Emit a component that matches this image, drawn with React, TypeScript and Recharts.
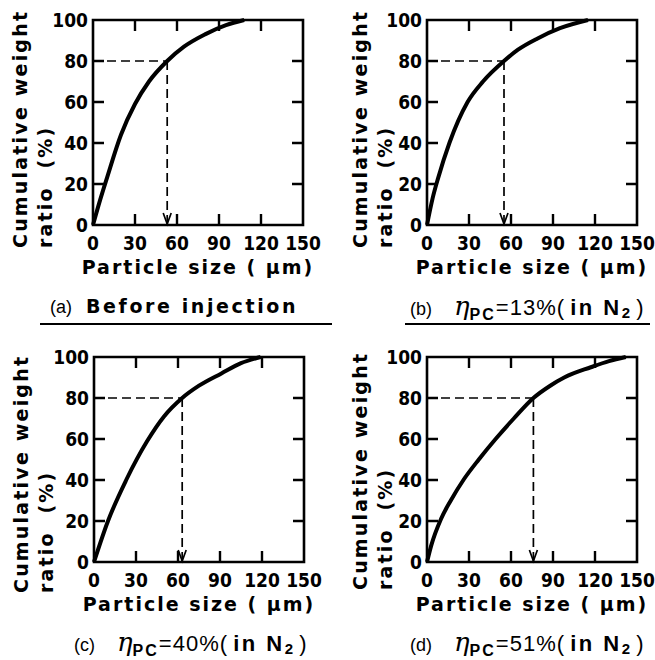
import React from "react";
import { LineChart, Line, XAxis, YAxis, ReferenceLine } from "recharts";

// particle size (um) vs cumulative weight ratio (%)
const sizeA = [0, 5, 10, 20, 30, 40, 53, 65, 80, 95, 108];
const cumA = [0, 12, 23, 44, 59, 70, 80, 87, 93, 97.5, 100];
const sizeB = [0, 4, 8, 16, 29, 40, 55, 65, 79, 95, 115];
const cumB = [0, 13, 23, 40, 60, 70, 80, 85.5, 91, 96, 100];
const sizeC = [0, 10, 23, 38, 50, 63, 75, 91, 105, 119];
const cumC = [0, 20, 40, 59, 71, 80, 86, 92, 97, 100];
const sizeD = [0, 3, 10, 17, 26, 37, 49, 62, 76, 88, 98, 117, 130, 142];
const cumD = [0, 8, 21, 30, 40, 50, 60, 70, 80, 86, 90, 95, 98, 100];

// size at 80 % (dashed guide)
const d80 = [53, 55, 63, 76];

const xTicks = [0, 30, 60, 90, 120, 150];
const yTicks = [0, 20, 40, 60, 80, 100];
const tags = ["(a)", "(b)", "(c)", "(d)"];
const etaPc = [null, 13, 40, 51];

const toRows = (xs: number[], ys: number[]) => xs.map((x, i) => ({ x, y: ys[i] }));
const series = [toRows(sizeA, cumA), toRows(sizeB, cumB), toRows(sizeC, cumC), toRows(sizeD, cumD)];

const X0 = xTicks[0];
const X1 = xTicks[xTicks.length - 1];
const Y0 = yTicks[0];
const Y1 = yTicks[yTicks.length - 1];

// layout of one chart
const CW = 321;
const CH = 280;
const M_TOP = 20;
const M_RIGHT = 18;
const Y_W = 93;
const X_H = 55;
const PLOT_W = CW - Y_W - M_RIGHT;
const PLOT_H = CH - M_TOP - X_H;
const X_MARGIN = 12;
const Y_MARGIN = 5;
const TICK = 11;
const FRAME = 2.6;

// chart placement on the page + y-title position inside each chart
const spots = [
  { left: 0, top: 0, lx: 0, ly: 248 },
  { left: 334, top: 0, lx: 6, ly: 248 },
  { left: 1, top: 337, lx: 0, ly: 256 },
  { left: 334, top: 337, lx: 6, ly: 253 },
];

const tickFont = "'Liberation Sans Narrow','DejaVu Sans Condensed','Liberation Sans',Arial,sans-serif";
const labelFont = "'DejaVu Sans',Verdana,sans-serif";
const tickText = { fill: "#000", fontSize: 19, fontWeight: 700, fontFamily: tickFont };

const arrowShape = (p: any) => {
  const { x1, y1, x2, y2 } = p;
  return (
    <g>
      <line x1={x1} y1={y1} x2={x2} y2={y2} stroke="#000" strokeWidth={1.7} strokeDasharray="9 5" />
      <path d={`M${x2 - 4},${y2 - 12} L${x2},${y2 - 1} L${x2 + 4},${y2 - 12}`} fill="none" stroke="#000" strokeWidth={1.7} />
    </g>
  );
};

const dashShape = (p: any) => (
  <line x1={p.x1} y1={p.y1} x2={p.x2} y2={p.y2} stroke="#000" strokeWidth={1.7} strokeDasharray="9 5" />
);

// x tick: label + inward marks on the bottom and top edges
const renderXTick = (p: any) => {
  const { x, y, payload } = p;
  const v = payload.value;
  const base = y - X_MARGIN;
  const top = base - PLOT_H;
  const inner = v !== X0 && v !== X1;
  return (
    <g>
      {inner && (
        <path
          d={`M${x},${base} L${x},${base - TICK} M${x},${top} L${x},${top + TICK}`}
          fill="none"
          stroke="#000"
          strokeWidth={2.4}
        />
      )}
      <text x={x} y={y} dy="0.71em" textAnchor="middle" {...tickText}>
        {v}
      </text>
    </g>
  );
};

// y tick: label + inward marks on the left and right edges; the frame is drawn from the top tick
const renderYTick = (p: any) => {
  const { x, y, payload } = p;
  const v = payload.value;
  const base = x + Y_MARGIN;
  const right = base + PLOT_W;
  const inner = v !== Y0 && v !== Y1;
  return (
    <g>
      {inner && (
        <path
          d={`M${base},${y} L${base + TICK},${y} M${right},${y} L${right - TICK},${y}`}
          fill="none"
          stroke="#000"
          strokeWidth={2.4}
        />
      )}
      {v === Y1 && (
        <path
          d={`M${base},${y} L${right},${y} L${right},${y + PLOT_H} L${base},${y + PLOT_H} Z`}
          fill="none"
          stroke="#000"
          strokeWidth={FRAME}
          strokeLinejoin="miter"
        />
      )}
      <text x={x} y={y} dy="0.355em" textAnchor="end" {...tickText}>
        {v}
      </text>
    </g>
  );
};

const makeYLabel = (lx: number, ly: number) => () => {
  const a = 20 + lx;
  const b = 45 + lx;
  return (
    <g fontFamily={labelFont} fontWeight={700} fontSize={19} fill="#000">
      <text x={a} y={ly} transform={`rotate(-90 ${a} ${ly})`} dominantBaseline="central" letterSpacing={2.2}>
        Cumulative weight
      </text>
      <text x={b} y={ly} transform={`rotate(-90 ${b} ${ly})`} dominantBaseline="central" letterSpacing={2.2}>
        {"ratio\u00a0\u00a0(%)"}
      </text>
    </g>
  );
};

function Panel({ idx }: { idx: number }) {
  const s = spots[idx];
  return (
    <div style={{ position: "absolute", left: s.left, top: s.top }}>
      <LineChart width={CW} height={CH} data={series[idx]} margin={{ top: M_TOP, right: M_RIGHT, bottom: 0, left: 0 }}>
        <XAxis
          dataKey="x"
          type="number"
          domain={[X0, X1]}
          ticks={xTicks}
          height={X_H}
          axisLine={false}
          tickLine={false}
          tickSize={0}
          tickMargin={X_MARGIN}
          tick={renderXTick}
          interval={0}
          label={{
            value: "Particle size\u00a0(\u00a0μm)",
            position: "insideBottom",
            offset: 6,
            style: { fontFamily: labelFont, fontWeight: 700, fontSize: 19, fill: "#000", letterSpacing: 2 },
          }}
        />
        <YAxis
          type="number"
          domain={[Y0, Y1]}
          ticks={yTicks}
          width={Y_W}
          axisLine={false}
          tickLine={false}
          tickSize={0}
          tickMargin={Y_MARGIN}
          tick={renderYTick}
          interval={0}
          label={makeYLabel(s.lx, s.ly)}
        />
        <ReferenceLine ifOverflow="visible" segment={[{ x: 0, y: 80 }, { x: d80[idx], y: 80 }]} shape={dashShape} />
        <ReferenceLine ifOverflow="visible" segment={[{ x: d80[idx], y: 80 }, { x: d80[idx], y: 0 }]} shape={arrowShape} />
        <Line dataKey="y" type="monotone" stroke="#000" strokeWidth={4} dot={false} isAnimationActive={false} />
      </LineChart>
    </div>
  );
}

function Caption({ idx, left, top }: { idx: number; left: number; top: number }) {
  const eta = etaPc[idx];
  return (
    <div
      style={{
        position: "absolute",
        left,
        top,
        whiteSpace: "nowrap",
        color: "#000",
        fontFamily: "'Liberation Sans',Arial,sans-serif",
        fontSize: 22,
        lineHeight: "26px",
      }}
    >
      <span style={{ fontSize: 18, marginRight: eta === null ? 14 : 22 }}>{tags[idx]}</span>
      {eta === null ? (
        <span style={{ fontFamily: labelFont, fontWeight: 700, fontSize: 19, letterSpacing: 2.6 }}>
          Before injection
        </span>
      ) : (
        <span>
          <span style={{ fontFamily: "'DejaVu Serif',serif", fontStyle: "italic", fontSize: 26 }}>η</span>
          <sub style={{ fontSize: 16, fontWeight: 700, verticalAlign: -5, letterSpacing: 2 }}>PC</sub>
          <span style={{ letterSpacing: 1 }}>={eta}%</span>
          <span>{"(\u00a0"}</span>
          <span style={{ fontWeight: 700, letterSpacing: 2.5 }}>in N</span>
          <sub style={{ fontSize: 15, fontWeight: 700, verticalAlign: -3 }}>2</sub>
          <span>{"\u00a0)"}</span>
        </span>
      )}
    </div>
  );
}

export default function App() {
  return (
    <div
      style={{
        position: "absolute",
        left: 0,
        top: 0,
        width: 655,
        height: 660,
        overflow: "hidden",
        background: "#fff",
      }}
    >
      {[0, 1, 2, 3].map((i) => (
        <Panel key={i} idx={i} />
      ))}
      <Caption idx={0} left={50} top={293} />
      <Caption idx={1} left={410} top={293} />
      <Caption idx={2} left={74} top={629} />
      <Caption idx={3} left={410} top={629} />
      <div style={{ position: "absolute", left: 40, top: 323, width: 292, height: 2, background: "#000" }} />
      <div style={{ position: "absolute", left: 405, top: 323, width: 245, height: 2, background: "#000" }} />
    </div>
  );
}
